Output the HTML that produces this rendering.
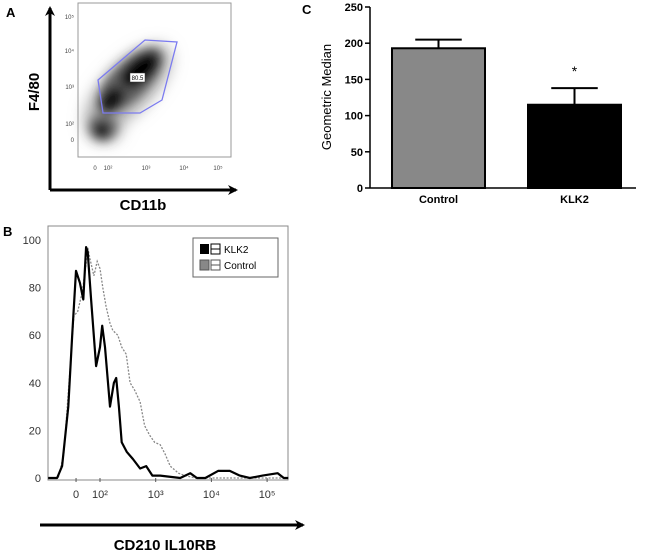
<!DOCTYPE html>
<html><head><meta charset="utf-8"><style>
body{margin:0;background:#fff;width:646px;height:551px;overflow:hidden}
svg{display:block;font-family:"Liberation Sans",Arial,sans-serif}
</style></head><body>
<svg id="fig" width="646" height="551" viewBox="0 0 646 551">
<defs>
<marker id="ah" markerWidth="10" markerHeight="10" refX="8" refY="5" orient="auto" markerUnits="userSpaceOnUse"><path d="M0,0 L10,5 L0,10 L3,5 Z" fill="#000"/></marker>
<filter id="blur"><feGaussianBlur stdDeviation="5"/></filter>
<filter id="blur2"><feGaussianBlur stdDeviation="8"/></filter>
</defs>
<!-- Panel A -->
<g>
<text x="6" y="17" font-size="13" font-weight="bold">A</text>
<line x1="50" y1="190" x2="50" y2="8" stroke="#000" stroke-width="3" marker-end="url(#ah)"/>
<line x1="50" y1="190" x2="236" y2="190" stroke="#000" stroke-width="3" marker-end="url(#ah)"/>
<rect x="78" y="3" width="153" height="154" fill="#fff" stroke="#999"/>
<g filter="url(#blur2)">
<ellipse cx="128" cy="88" rx="56" ry="24" transform="rotate(-45 128 88)" fill="#999" opacity="0.8"/>
<ellipse cx="104" cy="126" rx="18" ry="16" fill="#999" opacity="0.8"/>
</g>
<g filter="url(#blur)">
<ellipse cx="130" cy="80" rx="42" ry="18" transform="rotate(-45 130 80)" fill="#444" opacity="0.8"/>
<ellipse cx="140" cy="70" rx="22" ry="11" transform="rotate(-40 140 70)" fill="#000"/>
<ellipse cx="112" cy="100" rx="14" ry="9" transform="rotate(-50 112 100)" fill="#111"/>
<ellipse cx="103" cy="128" rx="14" ry="13" fill="#555" opacity="0.8"/>
<ellipse cx="102" cy="130" rx="7" ry="7" fill="#000"/>
</g>
<polygon points="98,80 145,40 177,42 162,100 140,113 103,113" fill="none" stroke="#7b7bf0" stroke-width="1.3"/>
<rect x="130" y="73" width="15" height="9" fill="#fff" stroke="#333" stroke-width="0.5"/>
<text x="137.5" y="80" font-size="6" text-anchor="middle">80.5</text>
<g font-size="6" fill="#444" text-anchor="end">
<text x="74" y="19">10⁵</text><text x="74" y="53">10⁴</text><text x="74" y="89">10³</text><text x="74" y="126">10²</text><text x="74" y="142">0</text></g>
<g font-size="6" fill="#444" text-anchor="middle">
<text x="95" y="170">0</text><text x="108" y="170">10²</text><text x="146" y="170">10³</text><text x="184" y="170">10⁴</text><text x="218" y="170">10⁵</text></g>
<text transform="translate(39,92) rotate(-90)" font-size="15" font-weight="bold" text-anchor="middle">F4/80</text>
<text x="143" y="210" font-size="15" font-weight="bold" text-anchor="middle">CD11b</text>
</g>
<!-- Panel B -->
<g id="pb">
<text x="3" y="236" font-size="13" font-weight="bold">B</text>
<rect x="48" y="226" width="240" height="254" fill="none" stroke="#888"/>
<g id="byt" font-size="11" fill="#333" text-anchor="end"></g>
<g id="bxt" font-size="11" fill="#333" text-anchor="middle"></g>
<g>
<rect x="193" y="238" width="85" height="39" fill="#fff" stroke="#666"/>
<rect x="200" y="244" width="9" height="10" fill="#000"/>
<rect x="211" y="244" width="9" height="10" fill="#fff" stroke="#000"/><line x1="211" y1="249" x2="220" y2="249" stroke="#000"/>
<text x="224" y="253" font-size="10">KLK2</text>
<rect x="200" y="260" width="9" height="10" fill="#888" stroke="#555"/>
<rect x="211" y="260" width="9" height="10" fill="#fff" stroke="#555"/><line x1="211" y1="265" x2="220" y2="265" stroke="#555"/>
<text x="224" y="269" font-size="10">Control</text>
</g>
<line x1="40" y1="525" x2="303" y2="525" stroke="#000" stroke-width="3" marker-end="url(#ah)"/>
<text x="165" y="550" font-size="15" font-weight="bold" text-anchor="middle">CD210 IL10RB</text>
</g>
<!-- Panel C -->
<g id="pc">
<text x="302" y="14" font-size="13" font-weight="bold">C</text>
<text transform="translate(331,97) rotate(-90)" font-size="13" text-anchor="middle">Geometric Median</text>
</g>
</svg>
<script>
// Panel B data: x in log decades (2 = 10^2), y = % of max
const bTicksY=[0,20,40,60,80,100];
const bTickX=[1.57,2,3,4,5];
const bTickXLabels=["0","10²","10³","10⁴","10⁵"];
const klkX=[1.07,1.23,1.32,1.43,1.5,1.57,1.64,1.7,1.75,1.78,1.84,1.93,2,2.04,2.09,2.18,2.25,2.29,2.34,2.39,2.48,2.59,2.72,2.83,2.94,3.08,3.44,3.62,3.74,3.89,4.12,4.33,4.51,4.69,4.92,5.19,5.3,5.38];
const klkY=[0,0,5,30,60,87,82,75,97,95,75,47,55,64,55,30,40,42,30,15,11,8,4,5,1,1,0,2,0,0,3,3,1,0,1,2,0,0];
const ctlX=[1.07,1.25,1.35,1.46,1.53,1.6,1.68,1.75,1.78,1.82,1.89,1.95,2,2.05,2.11,2.18,2.23,2.32,2.39,2.47,2.54,2.62,2.72,2.8,2.89,2.98,3.08,3.17,3.26,3.41,3.53,3.71,5.38];
const ctlY=[0,0,10,45,68,70,78,90,97,92,85,91,88,80,72,65,62,60,55,52,40,37,32,22,18,15,14,10,5,2,1,0,0];
// Panel C data
const cCats=["Control","KLK2"];
const cVals=[193,115];
const cErr=[12,23];
const cFill=["#888","#000"];
const cTicks=[0,50,100,150,200,250];
const NS="http://www.w3.org/2000/svg";
function mk(t,a,p){const e=document.createElementNS(NS,t);for(const k in a)e.setAttribute(k,a[k]);p.appendChild(e);return e;}
const bx=d=>100+(d-2)*55.7, by=v=>478-v*2.38;
const pb=document.getElementById('pb');
const byt=document.getElementById('byt'), bxt=document.getElementById('bxt');
bTicksY.forEach(v=>{const t=mk('text',{x:41,y:by(v)+4},byt);t.textContent=v;

});
bTickX.forEach((d,i)=>{const t=mk('text',{x:bx(d),y:498},bxt);t.textContent=bTickXLabels[i];


mk('line',{x1:bx(d),y1:478,x2:bx(d),y2:482,stroke:'#555'},bxt);});
function path(X,Y){return X.map((x,i)=>(i?'L':'M')+bx(x).toFixed(1)+','+by(Y[i]).toFixed(1)).join(' ');}
const cp=mk('path',{d:path(ctlX,ctlY),fill:'none',stroke:'#888','stroke-width':1.3,'stroke-dasharray':'2,1.5'},pb);


const kp=mk('path',{d:path(klkX,klkY),fill:'none',stroke:'#000','stroke-width':2.2,'stroke-linejoin':'round'},pb);


// Panel C
const pc=document.getElementById('pc');
const cy=v=>188-v*0.724;
const cx0=[392,528], cw=93;
mk('line',{x1:370,y1:cy(0),x2:370,y2:cy(250),stroke:'#000','stroke-width':1.5},pc);
mk('line',{x1:370,y1:cy(0),x2:636,y2:cy(0),stroke:'#000','stroke-width':1.5},pc);
cTicks.forEach(v=>{mk('line',{x1:365,y1:cy(v),x2:370,y2:cy(v),stroke:'#000','stroke-width':1.5},pc);
const t=mk('text',{x:363,y:cy(v)+4,'font-size':11,'font-weight':'bold','text-anchor':'end'},pc);t.textContent=v;

});
cCats.forEach((c,i)=>{
const x=cx0[i], m=x+cw/2;
mk('line',{x1:m,y1:cy(cVals[i]),x2:m,y2:cy(cVals[i]+cErr[i]),stroke:'#000','stroke-width':2},pc);
mk('line',{x1:m-cw/4,y1:cy(cVals[i]+cErr[i]),x2:m+cw/4,y2:cy(cVals[i]+cErr[i]),stroke:'#000','stroke-width':2},pc);
const r=mk('rect',{x:x,y:cy(cVals[i]),width:cw,height:cy(0)-cy(cVals[i]),fill:cFill[i],stroke:'#000','stroke-width':2},pc);


const t=mk('text',{x:m,y:203,'font-size':11,'font-weight':'bold','text-anchor':'middle'},pc);t.textContent=c;


});
const st=mk('text',{x:cx0[1]+cw/2,y:cy(cVals[1]+cErr[1])-12,'font-size':14,'text-anchor':'middle'},pc);st.textContent='*';


</script>
</body></html>
